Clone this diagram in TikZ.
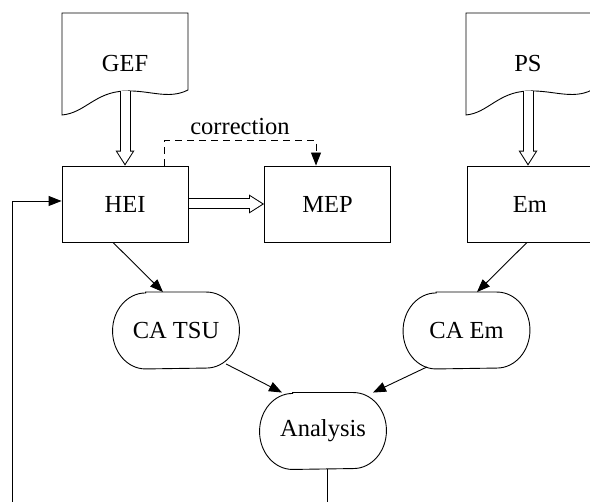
\documentclass[tikz,border=0pt]{standalone}
\usepackage{fontspec}
\setmainfont{Liberation Serif}
\usetikzlibrary{arrows.meta}

\begin{document}
\begin{tikzpicture}[x=1pt,y=1pt,line width=0.9pt,
  every node/.style={font=\fontsize{24.5}{29}\selectfont},
  box/.style={draw,minimum width=126pt,minimum height=76pt},
  capsule/.style={minimum width=126pt,minimum height=76pt},
  arr/.style={-{Triangle[length=13pt,width=10pt]}},
  hollowout/.style={line width=11pt,-{Triangle[length=15pt,width=19pt,line width=0pt]}},
  hollowin/.style={line width=9pt,white,shorten >=1.9pt,-{Triangle[length=12.1pt,width=15.4pt,line width=0pt]}}]
\useasboundingbox (0,0) rectangle (590,-502);
% document shapes
\draw (62,-13) -- (188,-13) -- (188,-90) .. controls (168,-100) and (150,-90) .. (125,-91)
  .. controls (95,-92) and (85,-113) .. (62,-115) -- cycle;
\draw (466,-13) -- (592,-13) -- (592,-90) .. controls (572,-100) and (553,-90) .. (528,-91)
  .. controls (498,-92) and (488,-113) .. (466,-115) -- cycle;
\node (gef) at (125,-64) {GEF};
\node (ps) at (528,-64) {PS};
\coordinate (gefw) at (125,-91.5);
\coordinate (psw) at (528,-91.5);
% boxes
\node[box] (hei) at (125,-204) {HEI};
\node[box] (mep) at (327.5,-204) {MEP};
\node[box] (em) at (530,-204) {Em};
\node[capsule] (catsu) at (176,-330.5) {CA TSU};
\node[capsule] (caem) at (466.5,-330.5) {CA Em};
\node[capsule] (ana) at (323,-431) {Analysis};
\foreach \n in {catsu,caem,ana}
  \draw ([xshift=33pt]\n.north west) -- ([xshift=-33pt]\n.north east)
    arc[start angle=90,end angle=-90,x radius=33pt,y radius=38pt]
    -- ([xshift=33pt]\n.south west)
    arc[start angle=270,end angle=90,x radius=33pt,y radius=38pt] -- cycle;
% connectors
\foreach \s in {hollowout,hollowin} {
  \draw[\s] (gefw) -- (hei.north);
  \draw[\s] (psw) -- ([xshift=-2pt]em.north);
  \draw[\s] ([xshift=0.5pt]hei.east) -- (mep.west);
}
\draw[arr,dashed,dash pattern=on 7pt off 5pt] ([xshift=39pt]hei.north) -- ++(0,25)
  -| ([xshift=-11.5pt]mep.north) node[pos=0.25,above=2pt] {correction};
\draw[arr] ([xshift=-12pt]hei.south) -- ([xshift=-13pt]catsu.north);
\draw[arr] ([xshift=-3pt]em.south) -- ([xshift=10.5pt]caem.north);
\draw[arr] ([xshift=50pt,yshift=5pt]catsu.south) -- ([xshift=-41pt]ana.north);
\draw[arr] ([xshift=-39.5pt,yshift=2pt]caem.south) -- ([xshift=50pt]ana.north);
\coordinate (fbk) at (12,-530);
\draw[arr] ([xshift=4.5pt]ana.south) |- (fbk) |- ([yshift=3pt]hei.west);
\end{tikzpicture}
\end{document}
